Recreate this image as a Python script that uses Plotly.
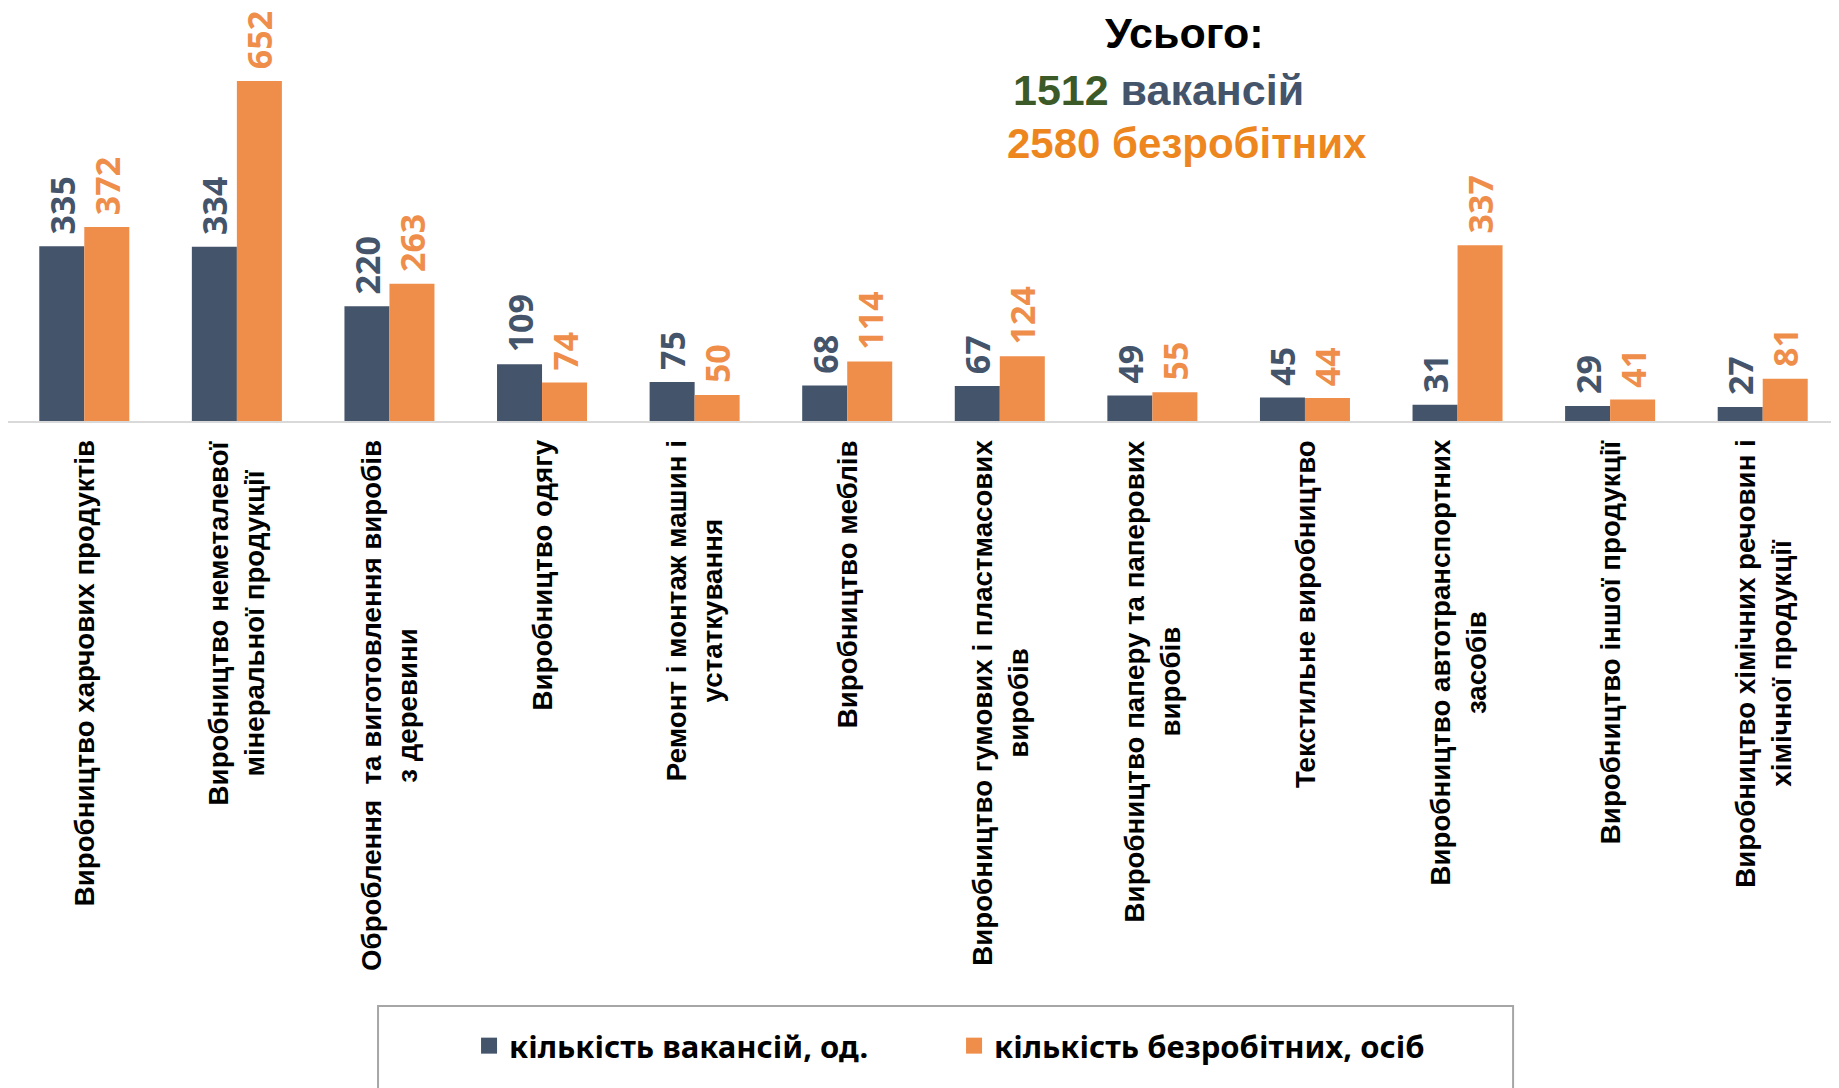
import plotly.graph_objects as go

categories = [
    "Виробництво харчових продуктів",
    "Виробництво неметалевої мінеральної продукції",
    "Оброблення та виготовлення виробів з деревини",
    "Виробництво одягу",
    "Ремонт і монтаж машин і устаткування",
    "Виробництво меблів",
    "Виробництво гумових і пластмасових виробів",
    "Виробництво паперу та паперових виробів",
    "Текстильне виробництво",
    "Виробництво автотранспортних засобів",
    "Виробництво іншої продукції",
    "Виробництво хімічних речовин і хімічної продукції",
]
tick_labels = [
    "Виробництво харчових продуктів",
    "Виробництво неметалевої<br>мінеральної продукції",
    "Оброблення  та виготовлення виробів<br>з деревини",
    "Виробництво одягу",
    "Ремонт і монтаж машин і<br>устаткування",
    "Виробництво меблів",
    "Виробництво гумових і пластмасових<br>виробів",
    "Виробництво паперу та паперових<br>виробів",
    "Текстильне виробництво",
    "Виробництво автотранспортних<br>засобів",
    "Виробництво іншої продукції",
    "Виробництво хімічних речовин і<br>хімічної продукції",
]
vacancies = [335, 334, 220, 109, 75, 68, 67, 49, 45, 31, 29, 27]
unemployed = [372, 652, 263, 74, 50, 114, 124, 55, 44, 337, 41, 81]
series_names = ["кількість вакансій, од.", "кількість безробітних, осіб"]
total_vacancies = 1512
total_unemployed = 2580

NAVY = "#44546A"
ORANGE = "#EF8E4B"
LABEL_FONT = "Open Sans, Noto Sans, DejaVu Sans, sans-serif"
ARIAL = "Liberation Sans, Arial, sans-serif"

fig = go.Figure()
for name, vals, col in [(series_names[0], vacancies, NAVY), (series_names[1], unemployed, ORANGE)]:
    fig.add_trace(go.Bar(
        x=categories, y=vals, name=name, marker=dict(color=col, line=dict(width=0)),
        text=["\u00a0" + str(v) for v in vals], textposition="outside", textangle=-90,
        constraintext="none", cliponaxis=False,
        textfont=dict(family=LABEL_FONT, size=34, color=col, weight="bold"),
        showlegend=False,
    ))
    # legend entry
    fig.add_trace(go.Scatter(
        x=[None], y=[None], mode="markers", name=name,
        marker=dict(symbol="square", size=22, color=col),
    ))

annotations = []
for cat, lab in zip(categories, tick_labels):
    annotations.append(dict(
        x=cat, y=0, xref="x", yref="y", text="<b>" + lab + "</b>", showarrow=False,
        textangle=-90, xanchor="center", yanchor="top", yshift=-17, align="center",
        font=dict(family=ARIAL, size=27.7, color="black"),
    ))

annotations += [
    dict(x=0.6428, y=0.98, xref="paper", yref="paper", showarrow=False, xanchor="center", yanchor="middle",
         yshift=-4, borderpad=0,
         text="<b>Усього:</b>", font=dict(family=ARIAL, size=43, color="black")),
    dict(x=0.5478, y=0.8275, xref="paper", yref="paper", showarrow=False, xanchor="left", yanchor="middle",
         text=f"<b><span style='color:#3B5A27'>{total_vacancies}</span> вакансій</b>",
         font=dict(family=ARIAL, size=43, color=NAVY)),
    dict(x=0.5445, y=0.695, xref="paper", yref="paper", showarrow=False, xanchor="left", yanchor="middle",
         text=f"<b>{total_unemployed} безробітних</b>",
         font=dict(family=ARIAL, size=42, color="#EE8620")),
]

fig.update_layout(
    width=1839, height=1088,
    margin=dict(l=0, r=8, t=13, b=675),
    paper_bgcolor="white", plot_bgcolor="white",
    barmode="group", bargap=0.41, bargroupgap=0,
    xaxis=dict(showticklabels=False, ticks="", showgrid=False, showline=True,
               linecolor="#D9D9D9", linewidth=2, zeroline=False, fixedrange=True),
    yaxis=dict(range=[0, 767], visible=False, showgrid=False, zeroline=False),
    annotations=annotations,
    showlegend=True,
    legend=dict(orientation="h", x=0.2518, xanchor="left", y=-1.495, yanchor="top",
                font=dict(family="Noto Sans, Open Sans, sans-serif", size=31, color="black", weight="bold"),
                entrywidth=440, entrywidthmode="pixels", bgcolor="rgba(0,0,0,0)", itemsizing="trace"),
    shapes=[dict(type="rect", xref="paper", yref="paper", x0=0.2021, x1=0.822, y0=-1.4625, y1=-1.72,
                 line=dict(color="#A6A6A6", width=2), fillcolor="rgba(0,0,0,0)", layer="below")],
)

fig.write_html("out.html")
